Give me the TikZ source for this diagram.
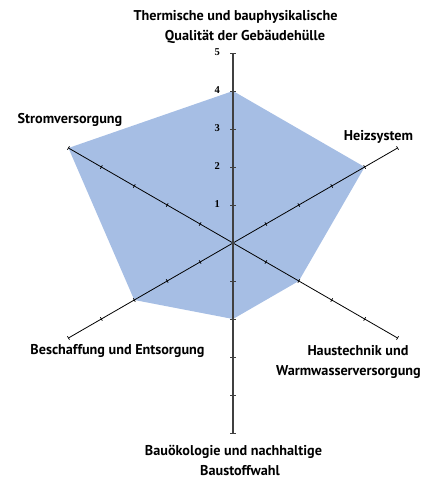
\documentclass[tikz,border=0pt]{standalone}
\usepackage{fontspec}
\setmainfont{PT Sans}
\newfontfamily\numfont{Liberation Serif}
\usetikzlibrary{calc}
\definecolor{areablue}{HTML}{A6BEE4}
\definecolor{axisgray}{HTML}{404040}
\begin{document}
\begin{tikzpicture}[x=1pt,y=1pt,
  lbl/.style={font=\fontsize{14.2}{20}\selectfont\bfseries, align=center, inner sep=0pt},
  ticklbl/.style={font=\numfont\fontsize{10.5}{11}\selectfont\bfseries, anchor=east, inner sep=0pt},
  axisline/.style={draw=black, line width=0.8pt},
  mainaxis/.style={draw=axisgray, line width=1.6pt}]
\useasboundingbox (-233,-236) rectangle (198,243);
% centre and axis ends
\coordinate (o) at (0,0);
\coordinate (aT) at (90:190);
\coordinate (aH) at (30:190);
\coordinate (aW) at (-30:190);
\coordinate (aB) at (-90:190);
\coordinate (aE) at (210:190);
\coordinate (aS) at (150:190);
% data points
\coordinate (pT) at (90:152);
\coordinate (pH) at (30:152);
\coordinate (pW) at (-30:76);
\coordinate (pB) at (-90:76);
\coordinate (pE) at (210:114);
\coordinate (pS) at (150:190);
\fill[areablue] (pT) -- (pH) -- (pW) -- (pB) -- (pE) -- (pS) -- cycle;
% axes
\foreach \e in {aH,aW,aE,aS} \draw[axisline] (o) -- (\e);
\draw[mainaxis] (aB) -- (aT);
% ticks
\foreach \ang in {30,-30,210,150}
  \foreach \k in {1,...,5}
    \draw[black, line width=0.7pt, shift={(\ang:\k*38)}, rotate=\ang] (0,-2) -- (0,2);
\foreach \ang in {90,-90}
  \foreach \k in {1,...,5}
    \draw[axisgray, line width=0.9pt, shift={(\ang:\k*38)}, rotate=\ang] (0,-2.8) -- (0,2.8);
% tick labels
\foreach \k in {1,...,5}
  \node[ticklbl] (t\k) at (-13,\k*38+1) {\k};
% labels
\node[lbl] (lT) at (2.5,216) {Thermische und bauphysikalische\\\hspace*{19pt}Qualität der Gebäudehülle};
\node[lbl] (lH) at (145.5,106) {Heizsystem};
\node[lbl] (lW) at (115.5,-118.5) {\hspace*{19pt}Haustechnik und\\Warmwasserversorgung};
\node[lbl] (lB) at (0.5,-217.5) {Bauökologie und nachhaltige\\\hspace*{13pt}Baustoffwahl};
\node[lbl] (lE) at (-115.5,-108) {Beschaffung und Entsorgung};
\node[lbl] (lS) at (-163,123) {Stromversorgung};
\end{tikzpicture}
\end{document}
